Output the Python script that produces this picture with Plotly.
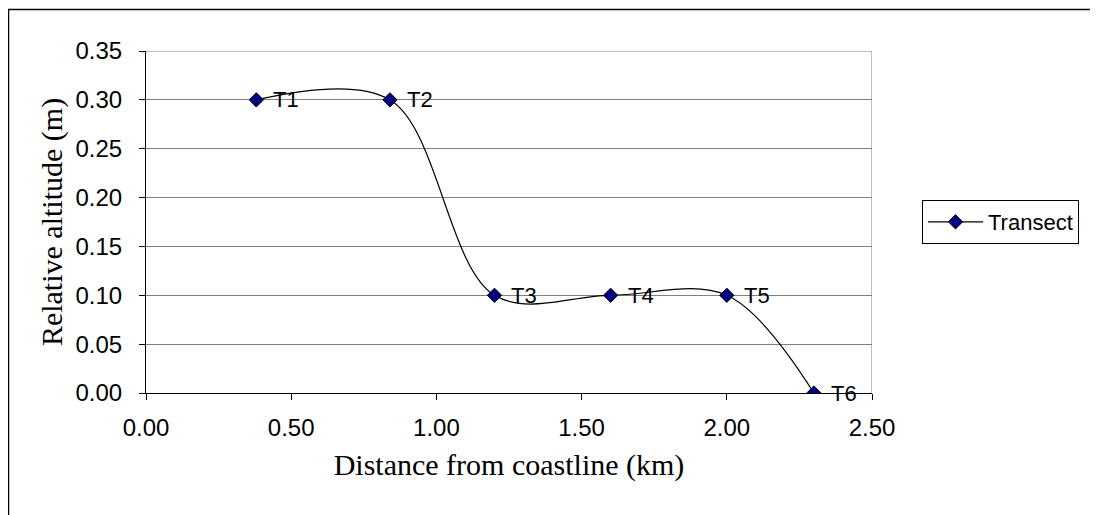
import plotly.graph_objects as go

# transect points
distance_km = [0.38, 0.84, 1.20, 1.60, 2.00, 2.30]
altitude_m = [0.30, 0.30, 0.10, 0.10, 0.10, 0.00]
point_labels = ["T1", "T2", "T3", "T4", "T5", "T6"]

x_ticks = [0.0, 0.5, 1.0, 1.5, 2.0, 2.5]
y_ticks = [0.0, 0.05, 0.10, 0.15, 0.20, 0.25, 0.30, 0.35]

# page body adds an 8px offset, so the figure is a bit smaller than the window
W, H = 1090, 507
L, R, T, B = 138, 226, 43, 122
pw, ph = W - L - R, H - T - B


def px(x):
    return (x - L) / pw


def py(y):
    return (H - B - y) / ph


fig = go.Figure()
fig.add_trace(
    go.Scatter(
        x=distance_km,
        y=altitude_m,
        mode="lines+markers",
        name="Transect",
        line={"color": "#000000", "width": 1.2, "shape": "spline", "smoothing": 1},
        marker={"symbol": "diamond", "size": 11, "color": "#000080", "line": {"color": "#000000", "width": 1}},
    )
)
for xv, yv, lab in zip(distance_km, altitude_m, point_labels):
    fig.add_annotation(
        x=xv, y=yv, text=lab, showarrow=False, xanchor="left", xshift=15,
        font={"family": "Liberation Sans, Arial, sans-serif", "size": 22, "color": "#000000"},
    )

# right/top plot border (grey) and outer chart border
fig.add_shape(type="line", xref="x", yref="paper", x0=2.5, x1=2.5, y0=0, y1=1,
              line={"color": "#808080", "width": 1})
fig.add_shape(type="line", xref="paper", yref="y", x0=0, x1=1, y0=0.35, y1=0.35,
              line={"color": "#808080", "width": 1})
fig.add_shape(type="rect", xref="paper", yref="paper", x0=px(0.5), y0=py(560), x1=px(1150), y1=py(1.5),
              line={"color": "#000000", "width": 1.5})

fig.update_layout(
    width=W,
    height=H,
    margin={"l": L, "r": R, "t": T, "b": B},
    paper_bgcolor="#ffffff",
    plot_bgcolor="#ffffff",
    font={"family": "Liberation Sans, Arial, sans-serif", "color": "#000000", "size": 24},
    showlegend=True,
    legend={
        "x": px(914), "y": py(236), "xanchor": "left", "yanchor": "bottom",
        "bordercolor": "#000000", "borderwidth": 1, "bgcolor": "#ffffff",
        "font": {"size": 22},
        "itemwidth": 55,
    },
    xaxis={
        "range": [0, 2.5],
        "tickvals": x_ticks,
        "tickformat": ".2f",
        "showgrid": False,
        "zeroline": False,
        "showline": True,
        "linecolor": "#000000",
        "linewidth": 1,
        "ticks": "outside",
        "ticklen": 6,
        "tickcolor": "#000000",
        "ticklabelstandoff": 7,
        "title": {"text": "Distance from coastline (km)", "standoff": 14,
                  "font": {"family": "Liberation Serif, Times New Roman, serif", "size": 30}},
    },
    yaxis={
        "range": [0, 0.35],
        "tickvals": y_ticks,
        "tickformat": ".2f",
        "showgrid": True,
        "gridcolor": "#808080",
        "gridwidth": 1,
        "zeroline": False,
        "showline": True,
        "linecolor": "#000000",
        "linewidth": 1,
        "ticks": "outside",
        "ticklen": 6,
        "tickcolor": "#000000",
        "ticklabelstandoff": 12,
        "title": {"text": "Relative altitude (m)", "standoff": 3,
                  "font": {"family": "Liberation Serif, Times New Roman, serif", "size": 30}},
    },
)

fig.write_html("out.html")
